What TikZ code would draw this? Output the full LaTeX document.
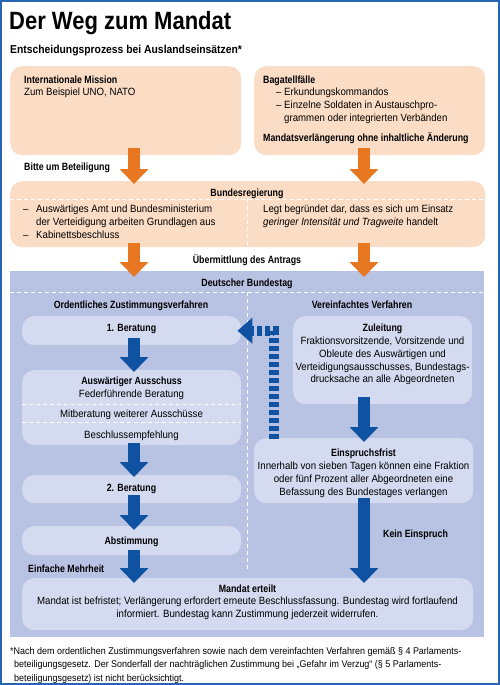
\documentclass[tikz,border=0pt]{standalone}
\usepackage{fontspec}
\setmainfont[FakeStretch=0.92]{Liberation Sans}
\newfontfamily\hdfont[FakeStretch=0.84]{Liberation Sans}
\newfontfamily\titlefont[FakeStretch=0.88]{Liberation Sans}
\newfontfamily\subfont[FakeStretch=0.9]{Liberation Sans}
\usetikzlibrary{arrows.meta}

\definecolor{peach}{RGB}{251,221,198}
\definecolor{orng}{RGB}{232,119,34}
\definecolor{btblue}{RGB}{184,194,226}
\definecolor{paleblue}{RGB}{212,218,240}
\definecolor{arrowblue}{RGB}{16,82,162}
\definecolor{frameblue}{RGB}{40,100,180}

\newcommand\li{\makebox[8pt][l]{–}}
\newcommand\lii{\makebox[13pt][l]{–}}

\begin{document}
\begin{tikzpicture}[x=1pt, y=-1pt,
  txt/.style={inner sep=0pt, font=\fontsize{10.5}{12.7}\selectfont, align=left},
  hd/.style={inner sep=0pt, font=\hdfont\bfseries\fontsize{10.5}{12.7}\selectfont},
  peachbox/.style={fill=peach, rounded corners=12pt, anchor=north west, inner sep=0pt},
  lightbox/.style={fill=paleblue, rounded corners=12pt, anchor=north west, inner sep=0pt},
  divider/.style={draw=white, line width=0.9pt, dash pattern=on 4pt off 3pt},
  orangearrow/.style={draw=orng, line width=12pt, -{Triangle[width=28pt,length=15pt]}},
  bluearrow/.style={draw=arrowblue, line width=12pt, -{Triangle[width=28pt,length=15pt]}},
  dasharrow/.style={draw=arrowblue, line width=10pt, dash pattern=on 5pt off 3pt,
    -{Triangle[width=25pt,length=15pt]}}]

\useasboundingbox (0,0) rectangle (500,685);
\fill[white] (0,0) rectangle (500,685);

\node[anchor=base west, inner sep=0pt, font=\titlefont\bfseries\fontsize{25}{25}\selectfont] (title) at (9,30) {Der Weg zum Mandat};
\node[anchor=base west, inner sep=0pt, font=\subfont\bfseries\fontsize{11.5}{13}\selectfont] (subtitle) at (10,54) {Entscheidungsprozess bei Auslandseinsätzen*};

\node[peachbox, minimum width=231pt, minimum height=89pt] (mission) at (10,66) {};
\node[peachbox, minimum width=231pt, minimum height=89pt] (bagatell) at (254,66) {};
\node[hd, anchor=base west] (missionhd) at (24,84) {Internationale Mission};
\node[txt, anchor=north west] (missiontxt) at (24,88) {Zum Beispiel UNO, NATO};
\node[hd, anchor=base west] (bagatellhd) at (263,84) {Bagatellfälle};
\node[txt, anchor=north west] (bagatelltxt) at (276,88) {\li Erkundungskommandos\\\li Einzelne Soldaten in Austauschpro-\\\hspace*{8pt}grammen oder integrierten Verbänden};
\node[hd, anchor=base west] (verlaengerung) at (263,141) {Mandatsverlängerung ohne inhaltliche Änderung};

\node[hd, anchor=base west] (bitte) at (24,170) {Bitte um Beteiligung};

\node[peachbox, minimum width=475pt, minimum height=66pt] (bundreg) at (10,181) {};
\draw[divider] (10,199) -- (485,199);
\draw[divider] (247,199) -- (247,247);
\node[hd, anchor=base] (bundreghd) at (247,196) {Bundesregierung};
\node[txt, anchor=north west] (bundregl) at (23,205) {\lii Auswärtiges Amt und Bundesministerium\\\hspace*{13pt}der Verteidigung arbeiten Grundlagen aus\\\lii Kabinettsbeschluss};
\node[txt, anchor=north west] (bundregr) at (263,205) {Legt begründet dar, dass es sich um Einsatz\\\textit{geringer Intensität und Tragweite} handelt};

\node[hd, anchor=base] (uebermittlung) at (247,263) {Übermittlung des Antrags};

\node[fill=btblue, anchor=north west, inner sep=0pt, minimum width=474pt, minimum height=366pt] (bundestag) at (10,271) {};
\node[hd, anchor=base] (bundestaghd) at (247,286) {Deutscher Bundestag};
\draw[divider] (10,292) -- (484,292);
\draw[divider] (247,292) -- (247,570);
\node[hd, anchor=base] (ordentlich) at (131,308) {Ordentliches Zustimmungsverfahren};
\node[hd, anchor=base] (vereinfacht) at (362,308) {Vereinfachtes Verfahren};

\node[lightbox, minimum width=219pt, minimum height=29pt] (ber1) at (22,316) {};
\node[hd, anchor=base] at (131.5,331) {1. Beratung};
\node[lightbox, minimum width=219pt, minimum height=75pt] (ausschuss) at (22,370) {};
\draw[divider] (22,404) -- (241,404);
\draw[divider] (22,422) -- (241,422);
\node[hd, anchor=base] at (131.5,384) {Auswärtiger Ausschuss};
\node[txt, anchor=base] at (131.5,397) {Federführende Beratung};
\node[txt, anchor=base] at (131.5,417) {Mitberatung weiterer Ausschüsse};
\node[txt, anchor=base] at (131.5,438) {Beschlussempfehlung};
\node[lightbox, minimum width=219pt, minimum height=28pt] (ber2) at (22,475) {};
\node[hd, anchor=base] at (131.5,491) {2. Beratung};
\node[lightbox, minimum width=219pt, minimum height=29pt] (abst) at (22,526) {};
\node[hd, anchor=base] at (131.5,544) {Abstimmung};
\node[hd, anchor=base west] (mehrheit) at (28,572) {Einfache Mehrheit};

\node[lightbox, minimum width=179pt, minimum height=88pt] (zuleitung) at (293,316) {};
\node[hd, anchor=base] at (382.5,331) {Zuleitung};
\node[txt, align=center, anchor=north] at (382.5,337) {Fraktionsvorsitzende, Vorsitzende und\\Obleute des Auswärtigen und\\Verteidigungsausschusses, Bundestags-\\drucksache an alle Abgeordneten};
\node[lightbox, minimum width=219pt, minimum height=65pt] (einspruch) at (254,438) {};
\node[hd, anchor=base] at (363.5,456) {Einspruchsfrist};
\node[txt, align=center, anchor=north] at (363.5,462) {Innerhalb von sieben Tagen können eine Fraktion\\oder fünf Prozent aller Abgeordneten eine\\Befassung des Bundestages verlangen};
\node[hd, anchor=base west] (kein) at (383,537) {Kein Einspruch};

\node[lightbox, minimum width=451pt, minimum height=52pt] (mandat) at (22,578) {};
\node[hd, anchor=base] at (247.5,592) {Mandat erteilt};
\node[txt, align=center, anchor=north] at (247.5,597) {Mandat ist befristet; Verlängerung erfordert erneute Beschlussfassung. Bundestag wird fortlaufend\\informiert. Bundestag kann Zustimmung jederzeit widerrufen.};

\coordinate (colL) at (134,0);
\coordinate (colR) at (364,0);
\coordinate (dashx) at (274,0);

\draw[orangearrow, shorten <=-7pt, shorten >=-3pt] (mission.south -| colL) -- (bundreg.north -| colL);
\draw[orangearrow, shorten <=-7pt, shorten >=-3pt] (bagatell.south -| colR) -- (bundreg.north -| colR);
\draw[orangearrow, shorten <=-4pt, shorten >=-6pt] (bundreg.south -| colL) -- (bundestag.north -| colL);
\draw[orangearrow, shorten <=-4pt, shorten >=-6pt] (bundreg.south -| colR) -- (bundestag.north -| colR);

\draw[bluearrow, shorten <=-7pt, shorten >=-2pt] (ber1.south -| colL) -- (ausschuss.north -| colL);
\draw[bluearrow, shorten <=-2pt, shorten >=-2pt] (ausschuss.south -| colL) -- (ber2.north -| colL);
\draw[bluearrow, shorten <=-8pt, shorten >=-4pt] (ber2.south -| colL) -- (abst.north -| colL);
\draw[bluearrow, shorten <=-5pt, shorten >=-5pt] (abst.south -| colL) -- (mandat.north -| colL);
\draw[bluearrow, shorten <=-7pt, shorten >=-4pt] (zuleitung.south -| colR) -- (einspruch.north -| colR);
\draw[bluearrow, shorten <=-5pt, shorten >=-5pt] (einspruch.south -| colR) -- (mandat.north -| colR);
\draw[dasharrow, shorten <=-1pt, shorten >=-4pt] (einspruch.north -| dashx) -- (ber1.east -| dashx) -- (ber1.east);

\node[txt, anchor=north west, font=\fontsize{9.75}{13.5}\selectfont] (footnote) at (10,647) {*Nach dem ordentlichen Zustimmungsverfahren sowie nach dem vereinfachten Verfahren gemäß § 4 Parlaments-\\\hspace*{4pt}beteiligungsgesetz. Der Sonderfall der nachträglichen Zustimmung bei „Gefahr im Verzug“ (§ 5 Parlaments-\\\hspace*{4pt}beteiligungsgesetz) ist nicht berücksichtigt.};

\draw[frameblue, line width=2pt] (1,1) rectangle (499,684);
\end{tikzpicture}
\end{document}
